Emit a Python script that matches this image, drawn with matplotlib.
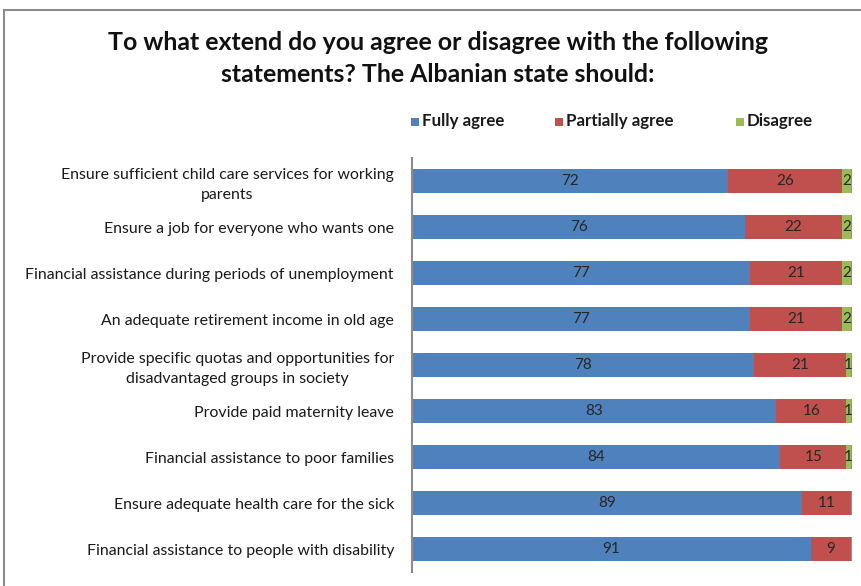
import matplotlib
matplotlib.use("Agg")
import matplotlib.pyplot as plt
from matplotlib.patches import Rectangle

categories = [
    "Ensure sufficient child care services for working\nparents",
    "Ensure a job for everyone who wants one",
    "Financial assistance during periods of unemployment",
    "An adequate retirement income in old age",
    "Provide specific quotas and opportunities for\ndisadvantaged groups in society",
    "Provide paid maternity leave",
    "Financial assistance to poor families",
    "Ensure adequate health care for the sick",
    "Financial assistance to people with disability",
]
fully_agree = [72, 76, 77, 77, 78, 83, 84, 89, 91]
partially_agree = [26, 22, 21, 21, 21, 16, 15, 11, 9]
disagree = [2, 2, 2, 2, 1, 1, 1, 0, 0]
other = [0.3, 0.3, 0.3, 0.3, 0.3, 0.7, 0.3, 0.5, 0.5]

series = [
    ("Fully agree", fully_agree, "#4F81BD"),
    ("Partially agree", partially_agree, "#C0504D"),
    ("Disagree", disagree, "#9BBB59"),
    (None, other, "#4BACC6"),
]

FONT = "Lato"
plt.rcParams["font.family"] = [FONT, "DejaVu Sans"]

fig = plt.figure(figsize=(8.61, 5.86), dpi=100)
fig.patches.append(Rectangle((4 / 861, -0.1), 1.2, 1.1 - 10 / 586,
                             transform=fig.transFigure, fill=False,
                             edgecolor="#8c8c8c", linewidth=1.5))

ax = fig.add_axes([412 / 861, 1 - 572 / 586, (852 - 412) / 861, (572 - 158) / 586])
ypos = list(range(len(categories)))
left = [0.0] * len(categories)
for name, vals, color in series:
    ax.barh(ypos, vals, left=left, height=0.52, color=color, edgecolor="none")
    for i, (l, v) in enumerate(zip(left, vals)):
        if name is not None and v > 0:
            ax.text(l + v / 2, i, f"{v:g}", ha="center", va="center",
                    fontsize=11, color="#262626")
    left = [l + v for l, v in zip(left, vals)]

ax.set_xlim(0, 100.3)
ax.set_ylim(len(categories) - 0.5, -0.5)
ax.set_yticks(ypos)
labels = ax.set_yticklabels(categories, fontsize=11.4, color="#1a1a1a")
for t in labels:
    t.set_multialignment("center")
    t.set_linespacing(1.5)
ax.tick_params(axis="y", length=0, pad=13)
ax.set_xticks([])
for s in ["top", "right", "bottom"]:
    ax.spines[s].set_visible(False)
ax.spines["left"].set_color("#8c8c8c")
ax.spines["left"].set_linewidth(1.5)

fig.text(438 / 861, 1 - 43 / 586, "To what extend do you agree or disagree with the following",
         ha="center", va="center", fontsize=17.9, fontweight="bold", color="#111111")
fig.text(438 / 861, 1 - 75 / 586, "statements? The Albanian state should:",
         ha="center", va="center", fontsize=17.9, fontweight="bold", color="#111111")

leg_x = [411, 555, 736]
for (name, vals, color), x in zip(series[:3], leg_x):
    fig.patches.append(Rectangle((x / 861, 1 - 126 / 586), 8 / 861, 8 / 586,
                                 transform=fig.transFigure, facecolor=color, edgecolor="none"))
    fig.text((x + 11) / 861, 1 - 121 / 586, name, ha="left", va="center",
             fontsize=12.2, fontweight="bold", color="#1a1a1a")

fig.savefig("out.png", dpi=100)
